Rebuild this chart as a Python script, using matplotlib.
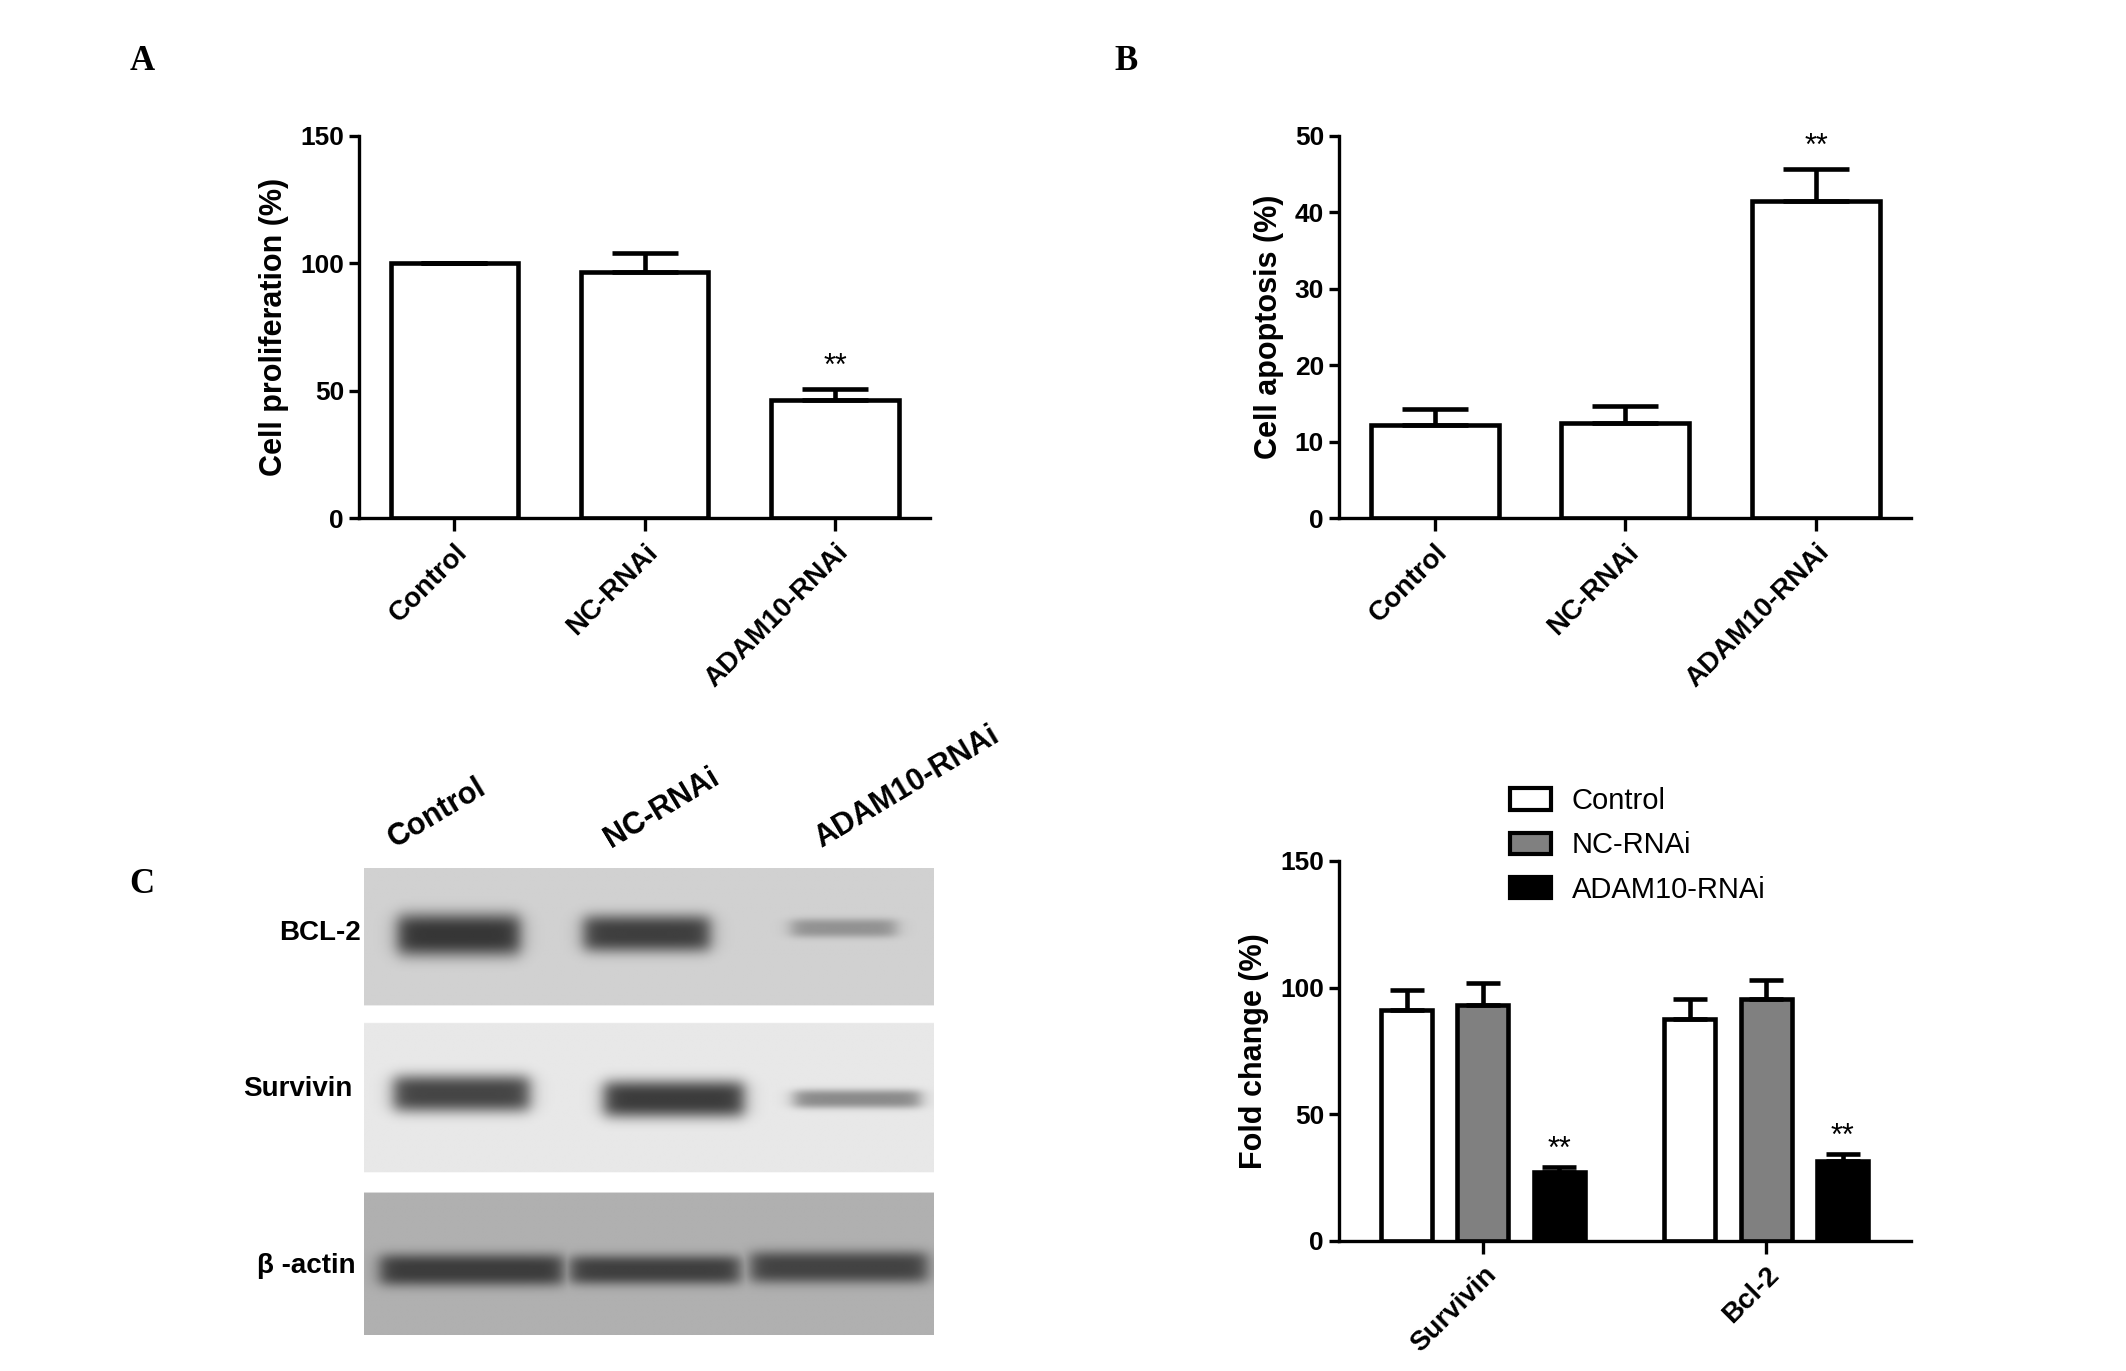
import numpy as np
import matplotlib.pyplot as plt
from matplotlib.patches import Patch

plt.rcParams['font.family'] = ['Liberation Sans', 'DejaVu Sans']

# data
groups = ["Control", "NC-RNAi", "ADAM10-RNAi"]
prolif = [100, 96.5, 46.5]
prolif_err = [0, 7.4, 4.2]
apopt = [12.2, 12.5, 41.5]
apopt_err = [2.1, 2.2, 4.2]

proteins = ["Survivin", "Bcl-2"]
fold_control = [91.3, 87.5]
fold_control_err = [7.9, 8.1]
fold_nc = [93.1, 95.3]
fold_nc_err = [8.6, 7.7]
fold_adam = [27.2, 31.5]
fold_adam_err = [1.8, 2.7]

blot_rows = ["BCL-2", "Survivin", "β -actin"]
# band darkness for Control, NC-RNAi, ADAM10-RNAi lanes
bcl2_bands = [0.74, 0.7, 0.3]
survivin_bands = [0.7, 0.74, 0.4]
actin_bands = [0.66, 0.64, 0.62]

LW = 3.3


def style_axes(ax):
    for s in ['top', 'right']:
        ax.spines[s].set_visible(False)
    for s in ['left', 'bottom']:
        ax.spines[s].set_linewidth(2.4)
    ax.tick_params(axis='y', direction='out', width=2.4, length=7, labelsize=19, pad=4)
    ax.tick_params(axis='x', direction='out', width=2.4, length=9, labelsize=20, pad=6)
    for lab in ax.get_yticklabels():
        lab.set_fontweight('bold')


def bar_panel(ax, vals, errs, ymax, step, ylabel):
    x = np.arange(len(vals))
    ax.bar(x, vals, width=0.67, color='white', edgecolor='black', linewidth=LW, zorder=2)
    ax.errorbar(x, vals, yerr=[np.zeros(len(errs)), errs], fmt='none', ecolor='black',
                elinewidth=LW, capsize=24, capthick=LW, zorder=3)
    ax.text(x[2], vals[2] + errs[2] + ymax * 0.018, '**', ha='center', va='bottom', fontsize=22)
    ax.set_xlim(-0.5, 2.5)
    ax.set_ylim(0, ymax)
    ax.set_yticks(np.arange(0, ymax + 1, step))
    ax.set_xticks(x)
    ax.set_xticklabels(groups, rotation=45, ha='right', rotation_mode='anchor', fontweight='bold')
    ax.set_ylabel(ylabel, fontsize=22, fontweight='bold', labelpad=8)
    style_axes(ax)


fig = plt.figure(figsize=(21.26, 13.71), dpi=100)

axA = fig.add_axes([0.169, 0.622, 0.2685, 0.279])
bar_panel(axA, prolif, prolif_err, 150, 50, 'Cell proliferation (%)')

axB = fig.add_axes([0.630, 0.622, 0.269, 0.279])
bar_panel(axB, apopt, apopt_err, 50, 10, 'Cell apoptosis (%)')

# grouped bar chart
axC = fig.add_axes([0.630, 0.095, 0.269, 0.277])
xg = np.arange(len(proteins))
off = 0.27
w = 0.18
series = [(fold_control, fold_control_err, 'white'),
          (fold_nc, fold_nc_err, '#808080'),
          (fold_adam, fold_adam_err, 'black')]
for i, (v, e, c) in enumerate(series):
    xs = xg + (i - 1) * off
    axC.bar(xs, v, width=w, color=c, edgecolor='black', linewidth=LW, zorder=2)
    axC.errorbar(xs, v, yerr=[np.zeros(len(e)), e], fmt='none', ecolor='black',
                 elinewidth=LW, capsize=12, capthick=LW, zorder=3)
for j in range(len(proteins)):
    axC.text(xg[j] + off, fold_adam[j] + fold_adam_err[j] + 0.8, '**', ha='center', va='bottom', fontsize=22)
axC.set_xlim(-0.507, 1.512)
axC.set_ylim(0, 150)
axC.set_yticks([0, 50, 100, 150])
axC.set_xticks(xg)
axC.set_xticklabels(proteins, rotation=45, ha='right', rotation_mode='anchor', fontweight='bold')
axC.set_ylabel('Fold change (%)', fontsize=22, fontweight='bold', labelpad=8)
style_axes(axC)
handles = [Patch(facecolor=c, edgecolor='black', linewidth=3, label=g)
           for (_, _, c), g in zip(series, groups)]
fig.legend(handles=handles, loc='upper left', bbox_to_anchor=(0.698, 0.445), frameon=False,
           fontsize=21, handlelength=1.4, handleheight=0.75, labelspacing=0.56, handletextpad=0.7)

# western blot image (units: displayed px relative to blot corner)
W, H = 420, 345
yy, xx = np.mgrid[0:H, 0:W].astype(float) + 0.5
img = np.ones((H, W))
strips = [(0, 102, 0.82), (115, 225, 0.91), (240, 345, 0.69)]
for y0, y1, bg in strips:
    img[y0:y1, :] = bg


def band(x0, x1, yc, hh, dark):
    fx = 1 / (1 + np.exp(-(xx - x0) / 3.5)) * 1 / (1 + np.exp((xx - x1) / 3.5))
    fy = np.exp(-np.abs((yy - yc) / hh) ** 3)
    return dark * fx * fy


dark = np.zeros((H, W))
lanes_bcl = [(25, 115, 50, 16), (162, 255, 49, 14), (315, 392, 45, 7)]
lanes_sur = [(22, 122, 167, 14), (177, 280, 171, 14), (317, 410, 171, 7)]
lanes_act = [(12, 147, 297, 12), (152, 277, 297, 11), (285, 415, 295, 12)]
for lanes, vals in [(lanes_bcl, bcl2_bands), (lanes_sur, survivin_bands), (lanes_act, actin_bands)]:
    for (x0, x1, yc, hh), d in zip(lanes, vals):
        dark = np.maximum(dark, band(x0, x1, yc, hh, d))
for y0, y1, bg in strips:
    seg = img[y0:y1, :]
    img[y0:y1, :] = seg * (1 - dark[y0:y1, :])

axW = fig.add_axes([0.171, 0.026, 0.268, 0.341])
axW.imshow(img, cmap='gray', vmin=0, vmax=1, extent=(0, W, H, 0), aspect='auto', interpolation='bilinear')
axW.set_xlim(0, W)
axW.set_ylim(H, 0)
axW.axis('off')
for lab, yc, xr in zip(blot_rows, [48, 163, 294], [-2, -8, -6]):
    axW.text(xr, yc, lab, ha='right', va='center', fontsize=20, fontweight='bold', clip_on=False)
for lab, xl in zip(groups, [26, 185, 340]):
    axW.text(xl, -10, lab, ha='left', va='bottom', rotation=31, rotation_mode='anchor',
             fontsize=22, fontweight='bold', clip_on=False)

# panel letters
for letter, xf, yf in [('A', 0.061, 0.955), ('B', 0.524, 0.955), ('C', 0.061, 0.355)]:
    fig.text(xf, yf, letter, fontsize=25, fontweight='bold', family='Liberation Serif', va='center')

fig.savefig('out.png', dpi=100)
